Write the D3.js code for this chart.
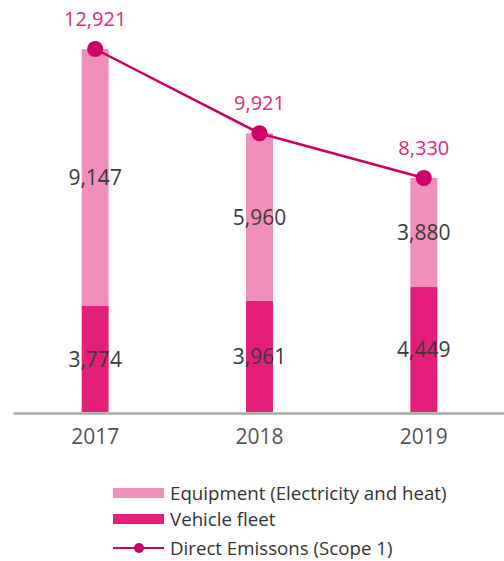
<!DOCTYPE html>
<html>
<head>
<meta charset="utf-8">
<script src="https://cdn.jsdelivr.net/npm/d3@7"></script>
<style>
  html, body { margin: 0; padding: 0; background: #fff; }
  svg { display: block; font-family: "Open Sans", "Noto Sans", sans-serif; }
  .num { font-stretch: 93%; }
</style>
</head>
<body>
<svg id="chart" width="504" height="561"></svg>
<script>
// Direct emissions by source, per year
const years = ["2017", "2018", "2019"];
const vehicleFleet = [3774, 3961, 4449];
const equipment = [9147, 5960, 3880];
const directTotal = [12921, 9921, 8330];
const seriesNames = ["Equipment (Electricity and heat)", "Vehicle fleet", "Direct Emissons (Scope 1)"];

const colEquip = "#f08fbb";
const colFleet = "#e31e7b";
const colLine = "#cc0066";
const colTotalLabel = "#e0287c";

const svg = d3.select("#chart");

const x = d3.scaleBand()
  .domain(years)
  .range([13, 506])
  .paddingInner(0.836)
  .paddingOuter(0.418);

const y = d3.scaleLinear()
  .domain([0, 12921])
  .range([412, 49]);

const rows = years.map((yr, i) => ({
  year: yr,
  fleet: vehicleFleet[i],
  equip: equipment[i],
  total: directTotal[i]
}));

const stack = d3.stack().keys(["fleet", "equip"])(rows);
const colors = { fleet: colFleet, equip: colEquip };

// stacked bars
const layers = svg.append("g").selectAll("g")
  .data(stack)
  .join("g")
  .attr("fill", d => colors[d.key]);

layers.selectAll("rect")
  .data(d => d)
  .join("rect")
  .attr("x", d => x(d.data.year))
  .attr("width", x.bandwidth())
  .attr("y", d => y(d[1]))
  .attr("height", d => y(d[0]) - y(d[1]));

// segment value labels
layers.each(function(layer) {
  d3.select(this).selectAll("text")
    .data(layer)
    .join("text")
    .attr("class", "num")
    .attr("x", d => x(d.data.year) + x.bandwidth() / 2)
    .attr("y", d => (y(d[0]) + y(d[1])) / 2)
    .attr("dy", "0.36em")
    .attr("text-anchor", "middle")
    .attr("fill", "#3a3a3a")
    .attr("font-size", 21)
    .text(d => d3.format(",")(d.data[layer.key]));
});

// x axis (baseline + year labels)
const axis = svg.append("g")
  .attr("transform", `translate(0,${y(0) + 1})`)
  .call(d3.axisBottom(x).tickSize(0).tickSizeOuter(0).tickPadding(16));
axis.select(".domain").attr("stroke", "#a6a6a6").attr("stroke-width", 2.5);
axis.selectAll(".tick text")
  .attr("class", "num")
  .attr("font-family", "'Open Sans', 'Noto Sans', sans-serif")
  .attr("font-size", 21)
  .attr("fill", "#555");

// direct emissions line
const cx = d => x(d.year) + x.bandwidth() / 2;
const line = d3.line().x(cx).y(d => y(d.fleet + d.equip));
svg.append("path")
  .datum(rows)
  .attr("d", line)
  .attr("fill", "none")
  .attr("stroke", colLine)
  .attr("stroke-width", 2.5);

svg.append("g").selectAll("circle")
  .data(rows)
  .join("circle")
  .attr("cx", cx)
  .attr("cy", d => y(d.fleet + d.equip))
  .attr("r", 8)
  .attr("fill", colLine);

svg.append("g").selectAll("text")
  .data(rows)
  .join("text")
  .attr("class", "num")
  .attr("x", cx)
  .attr("y", d => y(d.fleet + d.equip) - 23)
  .attr("text-anchor", "middle")
  .attr("fill", colTotalLabel)
  .attr("font-size", 20)
  .text(d => d3.format(",")(d.total));

// legend
const legend = svg.append("g").attr("transform", "translate(113,0)");
const legendRows = [
  { name: seriesNames[0], type: "rect", color: colEquip, y: 493 },
  { name: seriesNames[1], type: "rect", color: colFleet, y: 519 },
  { name: seriesNames[2], type: "line", color: colLine, y: 548 }
];
const li = legend.selectAll("g")
  .data(legendRows)
  .join("g")
  .attr("transform", d => `translate(0,${d.y})`);

li.filter(d => d.type === "rect").append("rect")
  .attr("x", 0).attr("y", -5).attr("width", 51).attr("height", 10)
  .attr("fill", d => d.color);
li.filter(d => d.type === "line").append("line")
  .attr("x1", 0).attr("x2", 51).attr("y1", 0).attr("y2", 0)
  .attr("stroke", d => d.color).attr("stroke-width", 2);
li.filter(d => d.type === "line").append("circle")
  .attr("cx", 26).attr("cy", 0).attr("r", 5)
  .attr("fill", d => d.color);

li.append("text")
  .attr("x", 57)
  .attr("y", 0)
  .attr("dy", "0.35em")
  .attr("font-size", 18.7)
  .attr("fill", "#333")
  .text(d => d.name);
</script>
</body>
</html>
